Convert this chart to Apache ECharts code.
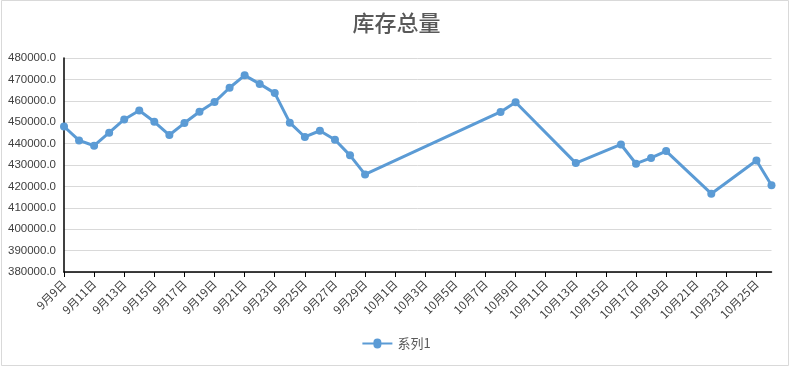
<!DOCTYPE html>
<html>
<head>
<meta charset="utf-8">
<script src="https://cdn.jsdelivr.net/npm/echarts@6/dist/echarts.min.js"></script>
<style>
html,body{margin:0;padding:0;background:#fff;}
#c{width:793px;height:368px;}
</style>
</head>
<body>
<div id="c"></div>
<script>
const titleText = '库存总量';
const seriesName = '系列1';
// all calendar days on the date axis (9月9日 .. 10月26日)
const axisDays = [
 '9月9日','9月10日','9月11日','9月12日','9月13日','9月14日','9月15日','9月16日','9月17日','9月18日',
 '9月19日','9月20日','9月21日','9月22日','9月23日','9月24日','9月25日','9月26日','9月27日','9月28日',
 '9月29日','9月30日','10月1日','10月2日','10月3日','10月4日','10月5日','10月6日','10月7日','10月8日',
 '10月9日','10月10日','10月11日','10月12日','10月13日','10月14日','10月15日','10月16日','10月17日','10月18日',
 '10月19日','10月20日','10月21日','10月22日','10月23日','10月24日','10月25日','10月26日'
];
// observed dates and values
const pointDates = [
 '9月9日','9月10日','9月11日','9月12日','9月13日','9月14日','9月15日','9月16日','9月17日','9月18日',
 '9月19日','9月20日','9月21日','9月22日','9月23日','9月24日','9月25日','9月26日','9月27日','9月28日',
 '9月29日','10月8日','10月9日','10月13日','10月16日','10月17日','10月18日','10月19日','10月22日','10月25日','10月26日'
];
const pointValues = [
 448000,441500,439000,445100,451300,455500,450200,444000,449600,454900,
 459400,466100,471900,467900,463600,449800,443100,446000,441800,434500,
 425600,454800,459300,430900,439600,430600,433300,436500,416600,432100,420500
];
const yMin = 380000, yMax = 480000, yStep = 10000;

const chart = echarts.init(document.getElementById('c'), null, {renderer:'canvas'});
chart.setOption({
  animation:false,
  backgroundColor:'#ffffff',
  graphic:[{type:'rect', shape:{x:1.5,y:0.5,width:787,height:365}, style:{fill:'none',stroke:'#d9d9d9',lineWidth:1}, silent:true}],
  title:{text:titleText, left:'center', top:7,
    textStyle:{fontFamily:'Noto Sans CJK SC', fontSize:22, fontWeight:500, color:'#595959'}},
  legend:{bottom:13, left:'center', itemWidth:30, itemHeight:10, itemGap:5,
    icon:'path://M0,4 L11,4 A4,4 0 1 1 19,4 L30,4 L30,6 L19,6 A4,4 0 1 1 11,6 L0,6 Z',
    textStyle:{fontFamily:'Noto Sans CJK SC', fontSize:13, color:'#595959'}, data:[seriesName]},
  grid:{left:64, right:21.5, top:58, bottom:96, containLabel:false},
  xAxis:{type:'category', data:axisDays, boundaryGap:false,
    axisLine:{lineStyle:{color:'#000', width:1.5}},
    axisTick:{interval:1, length:5, lineStyle:{color:'#000'}},
    axisLabel:{interval:1, rotate:45, fontFamily:'Noto Sans CJK SC', fontSize:11.5, color:'#404040', margin:10},
    splitLine:{show:false}},
  yAxis:{type:'value', min:yMin, max:yMax, interval:yStep,
    axisLine:{show:true, lineStyle:{color:'#000', width:1.5}},
    axisTick:{show:false},
    axisLabel:{fontFamily:'Liberation Sans', fontSize:11.5, color:'#404040', margin:8,
      formatter:v=>v.toFixed(1)},
    splitLine:{lineStyle:{color:'#d9d9d9', width:1}}},
  series:[{name:seriesName, type:'line',
    data:pointDates.map((d,i)=>[d, pointValues[i]]),
    lineStyle:{color:'#5b9bd5', width:3},
    itemStyle:{color:'#5b9bd5'},
    symbol:'circle', symbolSize:8}]
});
</script>
</body>
</html>
